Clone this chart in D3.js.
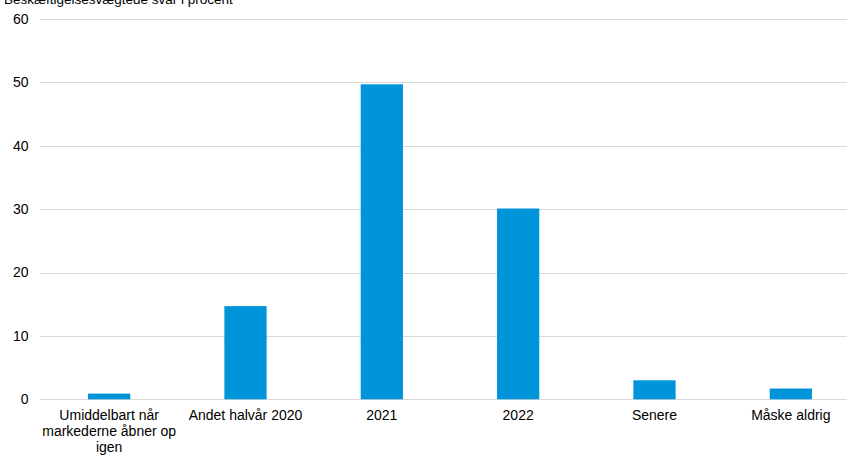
<!DOCTYPE html>
<html><head><meta charset="utf-8">
<script src="https://cdn.jsdelivr.net/npm/d3@7"></script>
<style>body{margin:0;background:#fff}svg{display:block}text{font-family:"Liberation Sans",Arial,sans-serif}</style>
</head><body><svg id="c" width="847" height="455"></svg>
<script>
const categories = ["Umiddelbart når markederne åbner op igen","Andet halvår 2020","2021","2022","Senere","Måske aldrig"];
const labelLines = [["Umiddelbart når","markederne åbner op","igen"],["Andet halvår 2020"],["2021"],["2022"],["Senere"],["Måske aldrig"]];
const values = [0.9, 14.7, 49.7, 30.1, 3.0, 1.7];
const yTicks = [0,10,20,30,40,50,60];
const title = "Beskæftigelsesvægtede svar i procent";

const svg = d3.select("#c");
const x = d3.scaleBand().domain(categories).range([41, 859]).paddingInner(0.69).paddingOuter(0.345);
const y = d3.scaleLinear().domain([0,60]).range([399.3, 19]);

svg.append("text").attr("x",4).attr("y",3.5).attr("font-size",13.5).attr("fill","#000").text(title);

const g = svg.append("g");
g.selectAll("line.grid").data(yTicks).join("line")
  .attr("x1",40).attr("x2",847).attr("y1",d=>Math.round(y(d))+0.5).attr("y2",d=>Math.round(y(d))+0.5)
  .attr("stroke","#d9d9d9").attr("stroke-width",1);
g.selectAll("text.yt").data(yTicks).join("text")
  .attr("x",28.5).attr("y",d=>y(d)).attr("dy","0.35em").attr("text-anchor","end")
  .attr("font-size",14).attr("fill","#000").text(d=>d);

g.selectAll("rect").data(values).join("rect")
  .attr("x",(d,i)=>x(categories[i])).attr("width",x.bandwidth())
  .attr("y",d=>y(d)).attr("height",d=>y(0)-y(d)).attr("fill","#0095da");

const xl = g.selectAll("text.xl").data(labelLines).join("text")
  .attr("text-anchor","middle").attr("font-size",14).attr("fill","#000");
xl.each(function(lines,i){
  const cx = x(categories[i]) + x.bandwidth()/2;
  d3.select(this).selectAll("tspan").data(lines).join("tspan")
    .attr("x",cx).attr("y",(d,j)=>420+j*16).text(d=>d);
});
</script></body></html>
